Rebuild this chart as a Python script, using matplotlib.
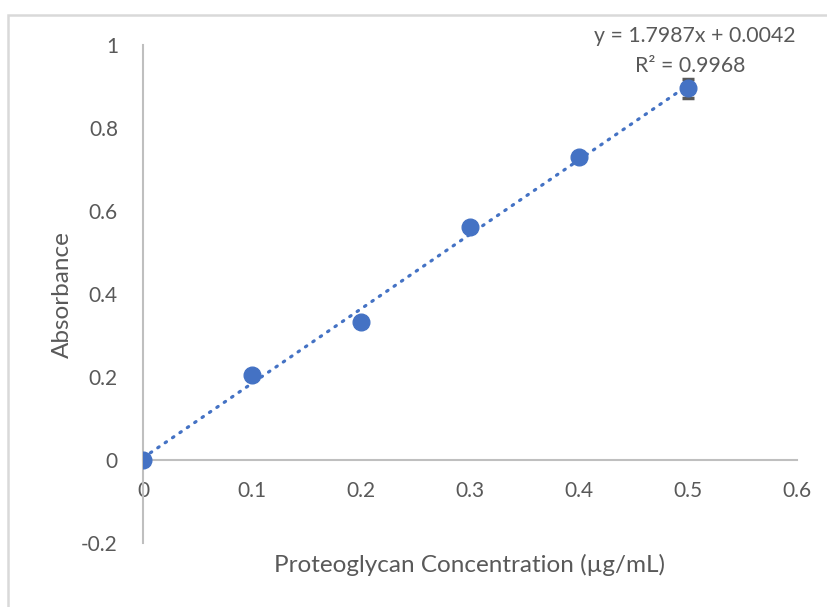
import numpy as np
import matplotlib.pyplot as plt
from matplotlib.patches import Rectangle

plt.rcParams['font.family'] = ['Lato', 'DejaVu Sans']

# standard curve data
conc = np.array([0.0, 0.1, 0.2, 0.3, 0.4, 0.5])
absorb = np.array([0.0, 0.205, 0.332, 0.561, 0.730, 0.896])
err = np.array([0.003, 0.004, 0.004, 0.005, 0.005, 0.023])
eq_text = "y = 1.7987x + 0.0042"
r2_text = "R\u00b2 = 0.9968"

xticks = [0, 0.1, 0.2, 0.3, 0.4, 0.5, 0.6]
yticks = [-0.2, 0, 0.2, 0.4, 0.6, 0.8, 1]

blue = '#4472C4'
grey_txt = '#595959'
grey_ax = '#BFBFBF'

fig = plt.figure(figsize=(8.28, 6.07), dpi=100)
ax = fig.add_axes([143/828, 1-543/607, (797-143)/828, (543-45)/607])

# chart border (only left and top edges fall inside the picture)
fig.patches.append(Rectangle((8/828, -0.05), 1.0, 1-15/607+0.05, transform=fig.transFigure,
                             fill=False, edgecolor='#D9D9D9', lw=1.8))

# linear trendline
coef = np.polyfit(conc, absorb, 1)
xfit = np.array([conc.min(), conc.max()])
ax.plot(xfit, np.polyval(coef, xfit), color=blue, lw=2.3, linestyle=(0, (0.5, 2.3)),
        dash_capstyle='round', zorder=2)

ax.errorbar(conc, absorb, yerr=err, fmt='o', color=blue, ms=12, ecolor='#595959',
            elinewidth=1.3, capsize=4.5, capthick=2.5, zorder=3)

ax.set_xlim(0, 0.6)
ax.set_ylim(-0.2, 1)
ax.set_xticks(xticks)
ax.set_xticklabels(['0', '0.1', '0.2', '0.3', '0.4', '0.5', '0.6'])
ax.set_yticks(yticks)
ax.set_yticklabels(['-0.2', '0', '0.2', '0.4', '0.6', '0.8', '1'])

for s in ['top', 'right']:
    ax.spines[s].set_visible(False)
ax.spines['bottom'].set_position(('data', 0))
ax.spines['left'].set_position(('data', 0))
ax.spines['bottom'].set_color(grey_ax)
ax.spines['left'].set_color(grey_ax)
ax.spines['bottom'].set_linewidth(1.5)
ax.spines['left'].set_linewidth(1.5)

ax.tick_params(axis='x', length=0, pad=15, labelsize=15, labelcolor=grey_txt)
ax.tick_params(axis='y', length=0, pad=18, labelsize=15, labelcolor=grey_txt)

fig.text(470/828, 1-565/607, "Proteoglycan Concentration (\u00b5g/mL)", ha='center', va='center',
         fontsize=17.5, color=grey_txt)
fig.text(62/828, 1-295/607, "Absorbance", ha='center', va='center', rotation=90,
         fontsize=17.5, color=grey_txt)

fig.text(695/828, 1-36/607, eq_text, ha='center', va='center', fontsize=15.3, color=grey_txt)
fig.text(690/828, 1-66/607, r2_text, ha='center', va='center', fontsize=15.3, color=grey_txt)

fig.savefig('out.png', dpi=100)
